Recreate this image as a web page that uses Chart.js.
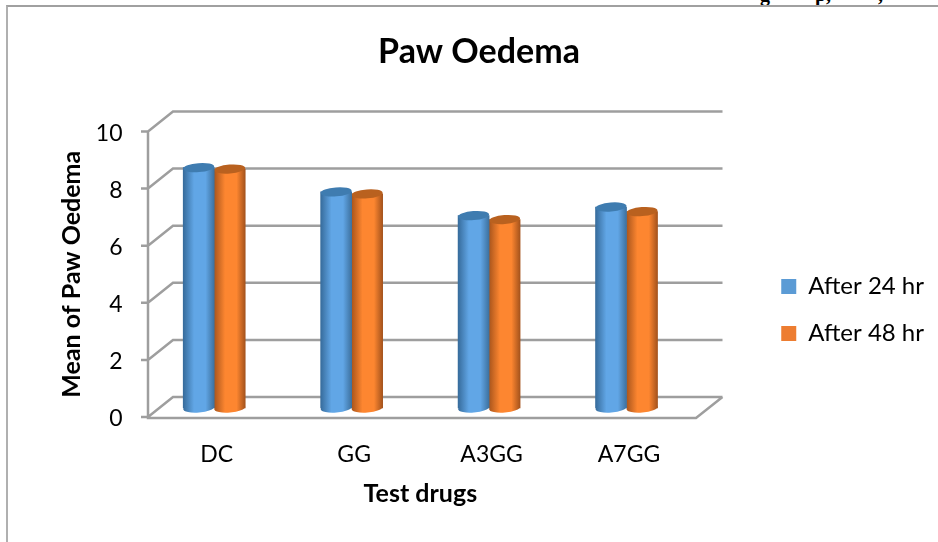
<!DOCTYPE html>
<html>
<head>
<meta charset="utf-8">
<title>Paw Oedema</title>
<script src="https://cdn.jsdelivr.net/npm/chart.js@4"></script>
<style>
    html, body { margin: 0; padding: 0; background: #fff; width: 938px; height: 542px; overflow: hidden; }
    #frame { position: absolute; left: 6px; top: 5px; right: 0; bottom: 0; border-left: 2px solid #b0b0b0; border-top: 2px solid #a0a0a0; }
    #cut-text { position: absolute; left: 0; top: 0; width: 938px; height: 5px; overflow: hidden; font: bold 20px "Liberation Serif", serif; color: #000; }
    #cut-text span { position: absolute; top: -17px; }
    canvas { position: absolute; left: 0; top: 0; }
</style>
</head>
<body>
<div id="frame"></div>
<div id="cut-text"><span style="left:760px">g</span><span style="left:815px">p,</span><span style="left:878px">,</span></div>
<canvas id="chart" width="938" height="542"></canvas>
<script>
const categories = ['DC', 'GG', 'A3GG', 'A7GG'];
const after24 = [8.42, 7.57, 6.74, 7.04];
const after48 = [8.37, 7.5, 6.6, 6.88];
const seriesNames = ['After 24 hr', 'After 48 hr'];

const FONT = 'Lato, sans-serif';
const BAR_W = 31;
const GRID = '#9e9e9e';
const DEPTH_X = 25;
const DEPTH_Y = 20;
const RY = 4.5;

const shades = [
    { flat: '#5B9BD5', edgeL: '#376c9c', mid: '#61a6e6', edgeR: '#3d719f', cap: '#3f7cb0' },
    { flat: '#ED7D31', edgeL: '#a9551c', mid: '#fd8630', edgeR: '#a5531c', cap: '#b9611f' }
];

// round bar shading, left to right across one bar
function barFill(ctx) {
    const shade = shades[ctx.datasetIndex];
    if (ctx.type !== 'data') return shade.flat;
    const xScale = ctx.chart.scales.x;
    const cx = xScale.getPixelForValue(ctx.dataIndex) + (ctx.datasetIndex - 0.5) * BAR_W;
    if (!isFinite(cx)) return shade.flat; // scales not laid out yet
    const g = ctx.chart.ctx.createLinearGradient(cx - BAR_W / 2, 0, cx + BAR_W / 2, 0);
    g.addColorStop(0, shade.edgeL);
    g.addColorStop(0.35, shade.mid);
    g.addColorStop(0.72, shade.mid);
    g.addColorStop(1, shade.edgeR);
    return g;
}

function ellipse(c, x, y, w, color) {
    c.fillStyle = color;
    c.beginPath();
    c.ellipse(x, y, w / 2, RY, -0.08, 0, Math.PI * 2);
    c.fill();
}

const box3d = {
    id: 'box3d',
    afterLayout(chart) {
        // legend sits lower and further right than the layout puts it
        const lg = chart.legend;
        lg.left += 63; lg.right += 63;
        lg.top += 39; lg.bottom += 39;
        // title is centred on the whole chart, not on the space left of the padding
        chart.titleBlock.left += 43.5;
        chart.titleBlock.right += 43.5;
    },
    beforeDatasetsDraw(chart) {
        const c = chart.ctx;
        const y = chart.scales.y;
        const left = 148;
        const backL = left + DEPTH_X;
        const backR = 722.5;
        const floorR = backR - DEPTH_X - 1.5;
        c.save();
        c.strokeStyle = GRID;
        c.lineWidth = 2.5;
        c.beginPath();
        y.ticks.forEach(t => {
            const py = y.getPixelForValue(t.value);
            c.moveTo(left - 7, py);
            c.lineTo(left, py);
            c.lineTo(backL, py - DEPTH_Y);
            c.lineTo(backR, py - DEPTH_Y);
        });
        c.moveTo(left, y.getPixelForValue(10));
        c.lineTo(left, y.getPixelForValue(0) + 1);
        c.lineTo(floorR, y.getPixelForValue(0) + 1);
        c.lineTo(backR, y.getPixelForValue(0) - DEPTH_Y);
        c.stroke();
        c.restore();
    },
    beforeDatasetDraw(chart, args) {
        chart.getDatasetMeta(args.index).data.forEach(el => {
            ellipse(chart.ctx, el.x, el.base, el.width, el.options.backgroundColor);
        });
    },
    afterDatasetDraw(chart, args) {
        chart.getDatasetMeta(args.index).data.forEach(el => {
            ellipse(chart.ctx, el.x, el.y, el.width, shades[args.index].cap);
        });
    }
};

new Chart(document.getElementById('chart'), {
    type: 'bar',
    data: {
        labels: categories,
        datasets: [
            { label: seriesNames[0], data: after24, yAxisID: 'y2', backgroundColor: barFill, barThickness: BAR_W },
            { label: seriesNames[1], data: after48, yAxisID: 'y2', backgroundColor: barFill, barThickness: BAR_W }
        ]
    },
    options: {
        responsive: false,
        animation: false,
        layout: { padding: { right: 67 } },
        plugins: {
            title: {
                display: true,
                text: 'Paw Oedema',
                color: '#000',
                font: { family: FONT, size: 34, weight: 'bold' },
                padding: { top: 32, bottom: 58.7 }
            },
            legend: {
                position: 'right',
                labels: {
                    color: '#000',
                    font: { family: FONT, size: 24 },
                    boxWidth: 15,
                    boxHeight: 15,
                    padding: 23,
                    // the swatches are flat, only the bars are shaded
                    generateLabels: chart => Chart.defaults.plugins.legend.labels.generateLabels(chart)
                        .map((item, i) => ({ ...item, fillStyle: shades[i].flat, lineWidth: 0 }))
                }
            },
            tooltip: { enabled: false }
        },
        scales: {
            x: {
                grid: { display: false },
                border: { display: false },
                afterFit: s => { s.height = 125; },
                ticks: { color: '#000', font: { family: FONT, size: 23 }, padding: 15.5, labelOffset: 2.5 },
                title: {
                    display: true,
                    text: 'Test drugs',
                    color: '#000',
                    font: { family: FONT, size: 25, weight: 'bold' },
                    padding: { top: 0, bottom: 33 }
                }
            },
            y: {
                min: 0,
                max: 10,
                grid: { display: false },
                border: { display: false },
                afterFit: s => { s.width = 145.5; },
                ticks: { stepSize: 2, color: '#000', font: { family: FONT, size: 23 }, padding: 15, labelOffset: 2 },
                title: {
                    display: true,
                    text: 'Mean of Paw Oedema',
                    color: '#000',
                    font: { family: FONT, size: 25, weight: 'bold' },
                    padding: { top: 57, bottom: 0 }
                }
            },
            // bars stand half way into the floor, so their zero sits above the front axis
            y2: { axis: 'y', display: false, min: -0.315, max: 9.685 }
        }
    },
    plugins: [box3d]
});
</script>
</body>
</html>
